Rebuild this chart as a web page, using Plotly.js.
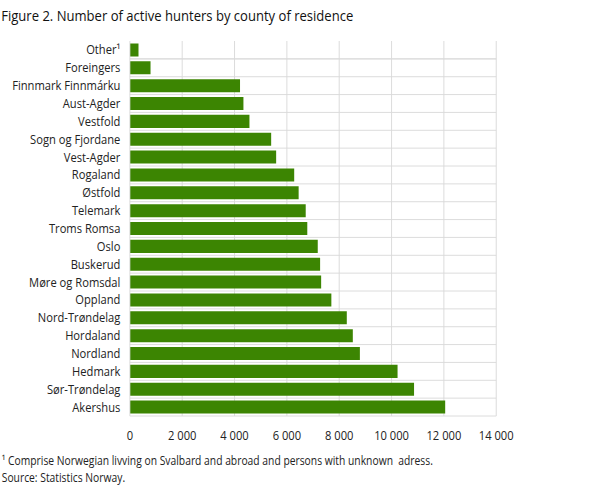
<!DOCTYPE html>
<html>
<head>
<meta charset="utf-8">
<script src="https://cdn.plot.ly/plotly-3.0.1.min.js"></script>
<style>
  html, body { margin: 0; padding: 0; background: #fff; overflow: hidden; }
  /* reference text is set tighter than Open Sans, so lay out wider and squeeze */
  #chart { transform: scaleX(0.86); transform-origin: 0 0; }
</style>
</head>
<body>
<div id="chart" style="width:708px;height:488px;"></div>
<script>
// counties, top to bottom
const counties = [
  "Other¹", "Foreingers", "Finnmark Finnmárku", "Aust-Agder", "Vestfold",
  "Sogn og Fjordane", "Vest-Agder", "Rogaland", "Østfold", "Telemark",
  "Troms Romsa", "Oslo", "Buskerud", "Møre og Romsdal", "Oppland",
  "Nord-Trøndelag", "Hordaland", "Nordland", "Hedmark", "Sør-Trøndelag", "Akershus"
]
const hunters = [
  330, 790, 4210, 4340, 4570,
  5400, 5590, 6280, 6450, 6720,
  6780, 7180, 7270, 7310, 7700,
  8290, 8520, 8790, 10230, 10860, 12050
]

const textColor = "#222222"
const gridColor = "#d9d9d9"
const font = "'Open Sans', sans-serif"

const W = 708
const marginL = 151
const marginR = 131
const plotW = W - marginL - marginR

const data = [
  {
    type: "bar",
    orientation: "h",
    x: hunters,
    y: counties,
    marker: { color: "#3c8502" },
    hoverinfo: "x+y",
  },
]

const layout = {
  width: W,
  height: 488,
  margin: { l: marginL, r: marginR, t: 41, b: 72 },
  paper_bgcolor: "#fff",
  plot_bgcolor: "#fff",
  separators: ". ",
  bargap: 0.27,
  showlegend: false,
  font: { family: font, size: 13, color: textColor },
  title: {
    text: "Figure 2. Number of active hunters by county of residence",
    x: 0.002,
    xref: "container",
    xanchor: "left",
    y: 0.967,
    yref: "container",
    yanchor: "middle",
    font: { family: font, size: 15.2, color: "#111" },
  },
  xaxis: {
    range: [0, 14000],
    dtick: 2000,
    tickformat: ",",
    showgrid: true,
    gridcolor: gridColor,
    zeroline: false,
    showline: false,
    ticks: "",
    ticklabelstandoff: 10,
    tickfont: { size: 13, color: textColor },
    fixedrange: true,
  },
  yaxis: {
    type: "category",
    autorange: "reversed",
    tickson: "boundaries",
    showgrid: true,
    gridcolor: gridColor,
    ticks: "",
    showline: false,
    ticklabelstandoff: 10,
    tickfont: { size: 13, color: textColor },
    fixedrange: true,
  },
  shapes: [
    { type: "line", xref: "paper", yref: "paper", x0: 1, x1: 1, y0: 0, y1: 1, line: { color: gridColor, width: 1 } },
    { type: "line", xref: "paper", yref: "paper", x0: 0, x1: 1, y0: 0, y1: 0, line: { color: gridColor, width: 1 } },
    { type: "line", xref: "paper", yref: "paper", x0: 0, x1: 0, y0: 0, y1: 1, line: { color: gridColor, width: 1 } },
  ],
  annotations: [
    {
      text: "¹ Comprise Norwegian livving on Svalbard and abroad and persons with unknown  adress.",
      xref: "paper", yref: "paper",
      x: -marginL / plotW, y: -(460 - 416) / 375,
      xanchor: "left", yanchor: "middle",
      showarrow: false,
      font: { size: 12, color: textColor },
    },
    {
      text: "Source: Statistics Norway.",
      xref: "paper", yref: "paper",
      x: -marginL / plotW, y: -(477 - 416) / 375,
      xanchor: "left", yanchor: "middle",
      showarrow: false,
      font: { size: 12, color: textColor },
    },
  ],
}

Plotly.newPlot("chart", data, layout, { displayModeBar: false, staticPlot: true })
</script>
</body>
</html>
